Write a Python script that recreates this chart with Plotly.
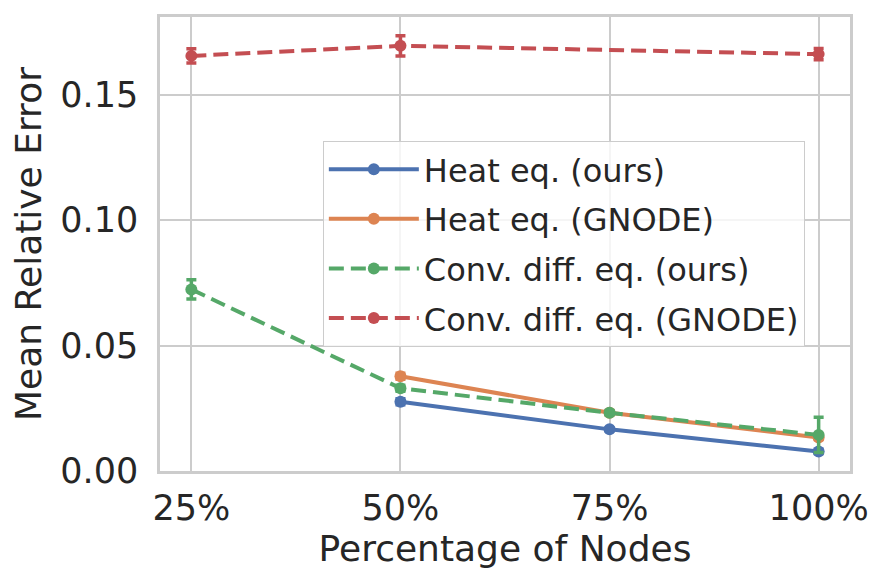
import plotly.graph_objects as go

# x categories
categories = ["25%", "50%", "75%", "100%"]

# Heat eq. (ours)
heat_ours_x = [1, 2, 3]
heat_ours_y = [0.0276, 0.0166, 0.0078]
heat_ours_err = [0.0012, 0.0006, 0.0008]

# Heat eq. (GNODE)
heat_gnode_x = [1, 2, 3]
heat_gnode_y = [0.0378, 0.0232, 0.0134]
heat_gnode_err = [0.0012, 0.0008, 0.0008]

# Conv. diff. eq. (ours)
conv_ours_x = [0, 1, 2, 3]
conv_ours_y = [0.0724, 0.0330, 0.0232, 0.0144]
conv_ours_err = [0.0038, 0.0012, 0.0008, 0.0070]

# Conv. diff. eq. (GNODE)
conv_gnode_x = [0, 1, 3]
conv_gnode_y = [0.1655, 0.1695, 0.1662]
conv_gnode_err = [0.0028, 0.0040, 0.0022]

series = [
    ("Heat eq. (ours)", heat_ours_x, heat_ours_y, heat_ours_err, "#4C72B0", "solid"),
    ("Heat eq. (GNODE)", heat_gnode_x, heat_gnode_y, heat_gnode_err, "#DD8452", "solid"),
    ("Conv. diff. eq. (ours)", conv_ours_x, conv_ours_y, conv_ours_err, "#55A868", "15px,7px"),
    ("Conv. diff. eq. (GNODE)", conv_gnode_x, conv_gnode_y, conv_gnode_err, "#C44E52", "15px,7px"),
]

fig = go.Figure()
for i, (name, xs, ys, errs, color, dash) in enumerate(series):
    fig.add_trace(go.Scatter(
        x=xs, y=ys, name=name, mode="lines+markers",
        line=dict(color=color, width=4, dash=dash),
        marker=dict(color=color, size=12),
        error_y=dict(type="data", array=errs, color=color, thickness=3.5, width=5),
        legendgroup=f"g{i}",
    ))

# page body has an 8px margin, so margins are shifted to compensate
font = "DejaVu Sans"
fig.update_layout(
    width=887, height=586,
    margin=dict(l=152, r=45, t=6, b=123),
    plot_bgcolor="white", paper_bgcolor="white",
    font=dict(family=font, color="#262626", size=35),
    legend=dict(
        x=0.236, y=0.727, xanchor="left", yanchor="top",
        bgcolor="rgba(255,255,255,0.8)", bordercolor="#cccccc", borderwidth=1,
        font=dict(size=32), tracegroupgap=5, itemwidth=90,
    ),
    xaxis=dict(
        title=dict(text="Percentage of Nodes", font=dict(size=36), standoff=6),
        tickvals=list(range(len(categories))), ticktext=categories,
        range=[-0.15, 3.15], showgrid=True, gridcolor="#cccccc", gridwidth=1.5,
        showline=True, linecolor="#cccccc", linewidth=2.5, mirror=True,
        zeroline=False, ticks="outside", ticklen=4, tickcolor="rgba(0,0,0,0)",
    ),
    yaxis=dict(
        title=dict(text="Mean Relative Error", font=dict(size=36), standoff=12),
        tickvals=[0, 0.05, 0.10, 0.15], tickformat=".2f",
        range=[0, 0.181], showgrid=True, gridcolor="#cccccc", gridwidth=1.5,
        showline=True, linecolor="#cccccc", linewidth=2.5, mirror=True,
        zeroline=False, ticks="outside", ticklen=12, tickcolor="rgba(0,0,0,0)",
    ),
)

fig.write_html("out.html")
